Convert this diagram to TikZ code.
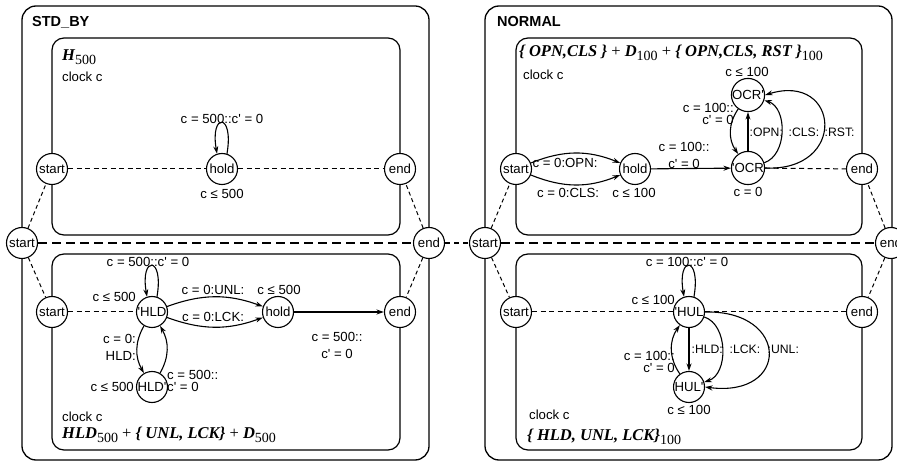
\documentclass[tikz,border=0pt]{standalone}
\usepackage{fontspec}
\setmainfont{Liberation Sans}
\newfontfamily\tms{Liberation Serif}
\usetikzlibrary{arrows.meta}
\newcommand{\apos}{\textquotesingle}
\newcommand{\expr}[1]{{\tms\bfseries\itshape #1}}
\newcommand{\lowr}[1]{\raisebox{-0.45ex}{\fontsize{14}{15}\selectfont #1}}

\begin{document}
\begin{tikzpicture}[
    x=1pt, y=-1pt,
    >={Stealth[length=7.5pt,width=5pt]},
    every node/.style={font=\fontsize{13.2}{14}\selectfont},
    state/.style={circle, draw, fill=white, line width=1.1pt,
                  minimum size=31pt, inner sep=0pt},
    region/.style={draw, line width=1.3pt, rounded corners=14pt},
    subregion/.style={draw, line width=1.2pt, rounded corners=12pt},
    ttl/.style={anchor=west, inner sep=1pt,
                font=\fontsize{14.5}{16}\selectfont\bfseries},
    modname/.style={anchor=west, inner sep=1pt,
                 font=\tms\fontsize{16.5}{18}\selectfont},
    lbl/.style={inner sep=1pt},
    event/.style={anchor=west, inner sep=0.5pt,
                  font=\fontsize{12.2}{13}\selectfont},
    stack/.style={align=center, inner sep=1pt,
                  font=\fontsize{13.2}{17}\selectfont},
    tight/.style={inner sep=1pt, font=\fontsize{13.2}{11.5}\selectfont},
    trans/.style={->, line width=1.1pt},
    link/.style={dash pattern=on 5pt off 3.5pt, line width=1pt},
    trunk/.style={dash pattern=on 9pt off 5pt, line width=1.1pt},
    bridge/.style={dash pattern=on 5pt off 4pt, line width=1.1pt},
    spoke/.style={dash pattern=on 4pt off 3pt, line width=1pt},
  ]
  \useasboundingbox (0,0) rectangle (897,462);

  % ══════════════════════════════════════════════
  % Regions — two outer regions, two sub-regions each
  % ══════════════════════════════════════════════
  \draw[region] (22,6) rectangle (429,460);
  \draw[region] (485,6) rectangle (892,460);
  \draw[subregion] (52,38) rectangle (400,235);
  \draw[subregion] (52,254) rectangle (400,450);
  \draw[subregion] (516,38) rectangle (862,235);
  \draw[subregion] (516,254) rectangle (862,450);

  \node[ttl] (stdby) at (31,22) {STD\_BY};
  \node[ttl] (normal) at (496,22) {NORMAL};

  % ── Outer start / end states ──
  \node[state] at (22,243) (ostartA) {start};
  \node[state] at (429,243) (oendA) {end};
  \node[state] at (485,243) (ostartB) {start};
  \node[state] at (891,243) (oendB) {end};

  % ── STD_BY, top: H500 ──
  \node[state] at (52,169) (startH) {start};
  \node[state] at (222,169) (holdH) {hold};
  \node[state] at (400,169) (endH) {end};

  % ── STD_BY, bottom: HLD500 + {UNL, LCK} + D500 ──
  \node[state] at (52,312) (startL) {start};
  \node[state] at (152,312) (hld) {\apos HLD};
  \node[state] at (152,387) (hldp) {HLD\apos};
  \node[state] at (278,312) (holdL) {hold};
  \node[state] at (400,312) (endL) {end};

  % ── NORMAL, top: {OPN,CLS} + D100 + {OPN,CLS,RST}100 ──
  \node[state] at (516,169) (startO) {start};
  \node[state] at (635,169) (holdO) {hold};
  \node[state] at (748,168) (ocr) {\apos OCR};
  \node[state] at (748,95) (ocrp) {OCR\apos};
  \node[state] at (862,169) (endO) {end};

  % ── NORMAL, bottom: {HLD, UNL, LCK}100 ──
  \node[state] at (516,312) (startU) {start};
  \node[state] at (689,312) (hul) {\apos HUL};
  \node[state] at (689,387) (hulp) {HUL\apos};
  \node[state] at (862,312) (endU) {end};

  % ══════════════════════════════════════════════
  % Dashed links between start / end states
  % ══════════════════════════════════════════════
  \draw[trunk] (ostartA) -- (oendA);
  \draw[bridge] (oendA) -- (ostartB);
  \draw[trunk] (ostartB) -- (oendB);
  \foreach \o/\a/\b in {ostartA/startH/startL, oendA/endH/endL,
                        ostartB/startO/startU, oendB/endO/endU} {
    \draw[spoke] (\o) -- (\a);
    \draw[spoke] (\o) -- (\b);
  }
  \draw[link] (startH) -- (holdH) -- (endH);
  \draw[link] (startL) -- (hld);
  \draw[link] (ocr) -- (endO);
  \draw[link] (startU) -- (hul) -- (endU);

  % ══════════════════════════════════════════════
  % H500
  % ══════════════════════════════════════════════
  \node[modname] (nameH) at (61,57) {\expr{H}\lowr{500}};
  \node[lbl, anchor=west] (clkH) at (61,77) {clock c};
  \draw[trans] (holdH.72) .. controls +(80:42pt) and +(100:42pt) .. (holdH.108);
  \node[lbl] (loopH) at (222,119) {c = 500::c\apos{} = 0};
  \node[lbl] (invH) at (222,194) {c ≤ 500};

  % ══════════════════════════════════════════════
  % HLD500 + {UNL, LCK} + D500
  % ══════════════════════════════════════════════
  \draw[trans] (hld.72) .. controls +(80:42pt) and +(100:42pt) .. (hld.108);
  \node[lbl] (loopL) at (148,262) {c = 500::c\apos{} = 0};
  \node[lbl, anchor=east] (invL) at (137,297) {c ≤ 500};
  \draw[trans] (hld) to[bend left=20] (holdL);
  \draw[trans] (hld) to[bend right=20] (holdL);
  \node[lbl] (unl) at (213,290) {c = 0:UNL:};
  \node[lbl] (lck) at (213,317) {c = 0:LCK:};
  \node[lbl] (invhold) at (279,290) {c ≤ 500};
  \draw[trans] (holdL) -- (endL);
  \node[stack] (tmo) at (337,345) {c = 500::\\c\apos{} = 0};
  \draw[trans] (hld) to[bend right=30] (hldp);
  \draw[trans] (hldp) to[bend right=30] (hld);
  \node[stack, align=right, anchor=east] (hldin) at (137,347) {c = 0:\\HLD:};
  \node[tight, align=left, anchor=west] (hldout) at (166,381) {c = 500::\\c\apos{} = 0};
  \node[lbl, anchor=east] (invLp) at (135,387) {c ≤ 500};
  \node[lbl, anchor=west] (clkL) at (61,417) {clock c};
  \node[modname] (nameL) at (61,435)
    {\expr{HLD}\lowr{500} + \expr{\{ UNL, LCK\}} + \expr{D}\lowr{500}};

  % ══════════════════════════════════════════════
  % {OPN,CLS} + D100 + {OPN,CLS,RST}100
  % ══════════════════════════════════════════════
  \node[modname] (nameO) at (518,53)
    {\expr{\{ OPN,CLS \}} + \expr{D}\lowr{100} + \expr{\{ OPN,CLS, RST \}}\lowr{100}};
  \node[lbl, anchor=west] (clkO) at (522,75) {clock c};
  \draw[trans] (startO) to[bend left=22] (holdO);
  \draw[trans] (startO) to[bend right=22] (holdO);
  \node[lbl] (opn) at (565,163) {c = 0:OPN:};
  \node[lbl] (cls) at (568,193) {c = 0:CLS:};
  \node[lbl] (invO) at (634,193) {c ≤ 100};
  \draw[trans] (holdO) -- (ocr);
  \node[stack] (tmoO) at (684,155) {c = 100::\\c\apos{} = 0};
  \node[lbl] (rstO) at (748,192) {c = 0};
  \node[lbl] (invOp) at (747,72) {c ≤ 100};
  \draw[trans] (ocr) -- (ocrp);
  \draw[trans] (ocr) to[bend right=72] (ocrp);
  \draw[trans] (ocr.east) .. controls (848,172) and (840,72) .. (ocrp.east);
  \draw[trans] (ocrp) to[bend right=35] (ocr);
  \node[tight, align=right, anchor=east] (back) at (735,114) {c = 100::\\c\apos{} = 0};
  \node[event] (evopn) at (749,132) {:OPN:};
  \node[event] (evcls) at (788,132) {:CLS:};
  \node[event] (evrst) at (824,132) {:RST:};

  % ══════════════════════════════════════════════
  % {HLD, UNL, LCK}100
  % ══════════════════════════════════════════════
  \draw[trans] (hul.72) .. controls +(80:42pt) and +(100:42pt) .. (hul.108);
  \node[lbl] (loopU) at (687,262) {c = 100::c\apos{} = 0};
  \node[lbl, anchor=east] (invU) at (676,300) {c ≤ 100};
  \draw[trans] (hul) -- (hulp);
  \draw[trans] (hul) to[bend left=72] (hulp);
  \draw[trans] (hul.east) .. controls (790,310) and (790,398) .. (hulp.east);
  \draw[trans] (hulp) to[bend left=35] (hul);
  \node[event] (evhld) at (691,349) {:HLD:};
  \node[event] (evlck) at (729,349) {:LCK:};
  \node[event] (evunl) at (767,349) {:UNL:};
  \node[tight, align=right, anchor=east] (backU) at (676,362) {c = 100::\\c\apos{} = 0};
  \node[lbl] (invUp) at (689,410) {c ≤ 100};
  \node[lbl, anchor=west] (clkU) at (528,415) {clock c};
  \node[modname] (nameU) at (526,437)
    {\expr{\{ HLD, UNL, LCK\}}\lowr{100}};

\end{tikzpicture}
\end{document}
